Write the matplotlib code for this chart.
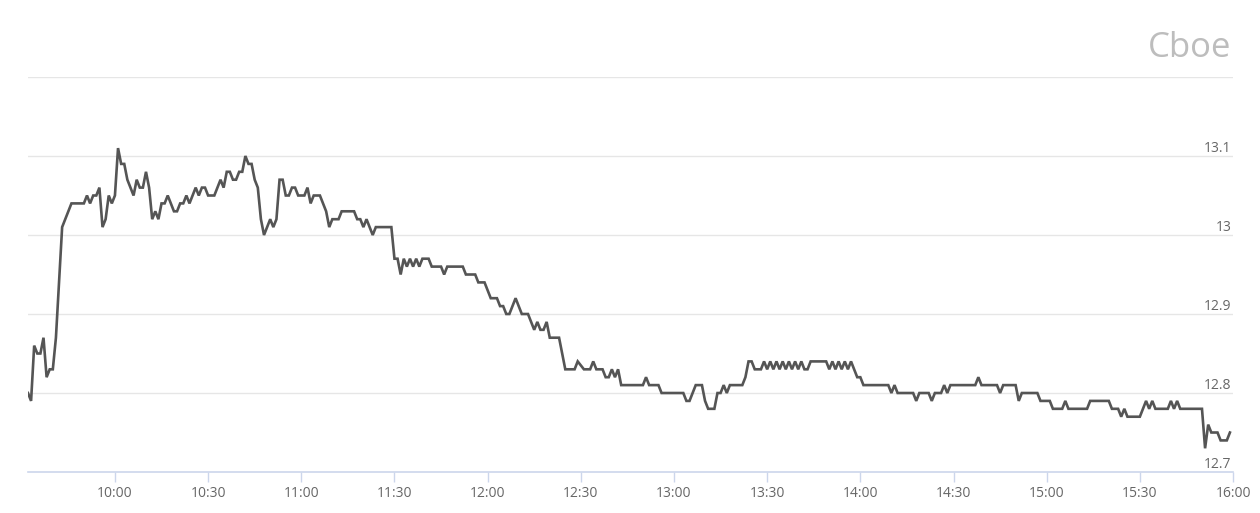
import matplotlib
matplotlib.use("Agg")
import matplotlib.pyplot as plt
from matplotlib.transforms import blended_transform_factory

# minutes after 09:30 and the last price at that minute
minute_offsets = [
    2, 3, 4, 5, 6, 7, 8, 9, 10, 11, 13, 14, 16, 20, 21, 22, 23, 24, 25, 26,
    27, 28, 29, 30, 31, 32, 33, 34, 35, 36, 37, 38, 39, 40, 41, 42, 43, 44, 45, 46,
    47, 48, 49, 50, 51, 52, 53, 54, 55, 56, 57, 58, 59, 60, 62, 63, 64, 65, 66, 67,
    68, 69, 70, 71, 72, 73, 74, 75, 76, 77, 78, 79, 80, 81, 82, 83, 84, 85, 86, 87,
    88, 89, 91, 92, 93, 94, 96, 97, 98, 99, 100, 102, 103, 107, 108, 109, 110, 111, 112, 113,
    114, 119, 120, 121, 122, 123, 124, 125, 126, 127, 128, 129, 131, 132, 135, 136, 137, 142, 143, 146,
    147, 149, 151, 153, 154, 155, 156, 157, 159, 161, 163, 165, 166, 167, 168, 169, 170, 173, 175, 178,
    179, 181, 183, 184, 185, 187, 188, 189, 190, 191, 192, 193, 200, 201, 202, 205, 206, 213, 214, 215,
    216, 217, 219, 220, 221, 223, 224, 225, 226, 227, 228, 232, 233, 234, 235, 236, 238, 239, 240, 241,
    242, 243, 244, 245, 246, 247, 248, 249, 250, 251, 252, 253, 254, 259, 260, 261, 262, 263, 264, 265,
    266, 267, 268, 269, 270, 271, 279, 280, 281, 282, 287, 288, 289, 292, 293, 294, 296, 297, 298, 299,
    307, 308, 309, 314, 315, 316, 320, 321, 322, 327, 328, 331, 332, 335, 336, 337, 343, 344, 350, 351,
    353, 354, 355, 356, 360, 361, 362, 363, 364, 365, 369, 370, 371, 372, 373, 380, 381, 382, 383, 385,
    386, 388, 389,
]
prices = [
    12.80, 12.79, 12.86, 12.85, 12.85, 12.87, 12.82, 12.83, 12.83, 12.87, 13.01, 13.02, 13.04, 13.04, 13.05, 13.04, 13.05, 13.05, 13.06, 13.01,
    13.02, 13.05, 13.04, 13.05, 13.11, 13.09, 13.09, 13.07, 13.06, 13.05, 13.07, 13.06, 13.06, 13.08, 13.06, 13.02, 13.03, 13.02, 13.04, 13.04,
    13.05, 13.04, 13.03, 13.03, 13.04, 13.04, 13.05, 13.04, 13.05, 13.06, 13.05, 13.06, 13.06, 13.05, 13.05, 13.06, 13.07, 13.06, 13.08, 13.08,
    13.07, 13.07, 13.08, 13.08, 13.10, 13.09, 13.09, 13.07, 13.06, 13.02, 13.00, 13.01, 13.02, 13.01, 13.02, 13.07, 13.07, 13.05, 13.05, 13.06,
    13.06, 13.05, 13.05, 13.06, 13.04, 13.05, 13.05, 13.04, 13.03, 13.01, 13.02, 13.02, 13.03, 13.03, 13.02, 13.02, 13.01, 13.02, 13.01, 13.00,
    13.01, 13.01, 12.97, 12.97, 12.95, 12.97, 12.96, 12.97, 12.96, 12.97, 12.96, 12.97, 12.97, 12.96, 12.96, 12.95, 12.96, 12.96, 12.95, 12.95,
    12.94, 12.94, 12.92, 12.92, 12.91, 12.91, 12.90, 12.90, 12.92, 12.90, 12.90, 12.88, 12.89, 12.88, 12.88, 12.89, 12.87, 12.87, 12.83, 12.83,
    12.84, 12.83, 12.83, 12.84, 12.83, 12.83, 12.82, 12.82, 12.83, 12.82, 12.83, 12.81, 12.81, 12.82, 12.81, 12.81, 12.80, 12.80, 12.79, 12.79,
    12.80, 12.81, 12.81, 12.79, 12.78, 12.78, 12.80, 12.80, 12.81, 12.80, 12.81, 12.81, 12.82, 12.84, 12.84, 12.83, 12.83, 12.84, 12.83, 12.84,
    12.83, 12.84, 12.83, 12.84, 12.83, 12.84, 12.83, 12.84, 12.83, 12.84, 12.83, 12.83, 12.84, 12.84, 12.83, 12.84, 12.83, 12.84, 12.83, 12.84,
    12.83, 12.84, 12.83, 12.82, 12.82, 12.81, 12.81, 12.80, 12.81, 12.80, 12.80, 12.79, 12.80, 12.80, 12.79, 12.80, 12.80, 12.81, 12.80, 12.81,
    12.81, 12.82, 12.81, 12.81, 12.80, 12.81, 12.81, 12.79, 12.80, 12.80, 12.79, 12.79, 12.78, 12.78, 12.79, 12.78, 12.78, 12.79, 12.79, 12.78,
    12.78, 12.77, 12.78, 12.77, 12.77, 12.78, 12.79, 12.78, 12.79, 12.78, 12.78, 12.79, 12.78, 12.79, 12.78, 12.78, 12.73, 12.76, 12.75, 12.75,
    12.74, 12.74, 12.75,
]

time_labels = ["10:00", "10:30", "11:00", "11:30", "12:00", "12:30", "13:00",
               "13:30", "14:00", "14:30", "15:00", "15:30", "16:00"]
price_levels = [12.7, 12.8, 12.9, 13.0, 13.1, 13.2]
price_labels = ["12.7", "12.8", "12.9", "13", "13.1", ""]


def to_offset(label):
    hh, mm = label.split(":")
    return (int(hh) - 9) * 60 + int(mm) - 30


grid_color = "#e6e6e6"
axis_color = "#ccd6eb"
text_color = "#666666"
font = ["Open Sans", "DejaVu Sans"]

fig = plt.figure(figsize=(12.6, 5.13), dpi=100)
ax = fig.add_axes([0.0222, 0.0799, 0.9564, 0.770])

ax.plot(minute_offsets, prices, color="#555555", linewidth=1.9,
        solid_joinstyle="miter", zorder=3)

ax.set_xlim(minute_offsets[0], to_offset(time_labels[-1]))
ax.set_ylim(price_levels[0], price_levels[-1])

for lvl in price_levels[1:]:
    ax.axhline(lvl, color=grid_color, linewidth=1.0, zorder=1)

trans = blended_transform_factory(ax.transAxes, ax.transData)
for lvl, lab in zip(price_levels, price_labels):
    if lab:
        ax.annotate(lab, xy=(1.0, lvl), xycoords=trans, xytext=(-1, 0),
                    textcoords="offset points", ha="right", va="bottom",
                    fontsize=10, color=text_color, family=font)

ax.set_xticks([to_offset(t) for t in time_labels])
ax.set_xticklabels(time_labels, family=font)
ax.tick_params(axis="x", length=7, width=1, color=axis_color, colors=text_color,
               labelsize=10, pad=3)
ax.tick_params(axis="x", color=axis_color)
ax.set_yticks([])

for side in ["top", "left", "right"]:
    ax.spines[side].set_visible(False)
ax.spines["bottom"].set_color(axis_color)
ax.spines["bottom"].set_linewidth(1.2)

fig.text(0.977, 0.889, "Cboe", ha="right", va="baseline", fontsize=25,
         color="#bdbdbd", family=font)

fig.savefig("out.png", dpi=100)
